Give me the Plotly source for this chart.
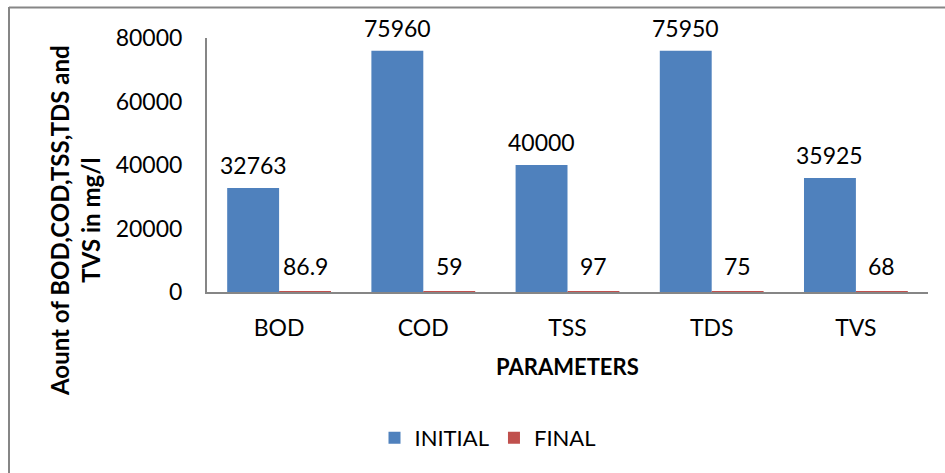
import plotly.graph_objects as go

# Wastewater parameters before and after treatment (mg/l)
parameters = ["BOD", "COD", "TSS", "TDS", "TVS"]
initial_vals = [32763, 75960, 40000, 75950, 35925]
final_vals = [86.9, 59, 97, 75, 68]
initial_labels = ["32763", "75960", "40000", "75950", "35925"]
final_labels = ["86.9", "59", "97", "75", "68"]
y_tick_vals = [0, 20000, 40000, 60000, 80000]

BLUE = "#4F81BD"
RED = "#C0504D"
AXIS_GRAY = "#868686"
FONT = "Lato"

W, H = 945, 473
ML, MR, MT, MB = 207, 17, 38, 181
plot_w = W - ML - MR
plot_h = H - MT - MB
cat_w = plot_w / len(parameters)
bargap = 0.28
bar_w = cat_w * (1 - bargap) / 2


def px_x(px):
    return (px - ML) / plot_w


def px_y(py):
    return (H - MB - py) / plot_h


fig = go.Figure()
fig.add_trace(go.Bar(name="INITIAL", x=parameters, y=initial_vals,
                     marker=dict(color=BLUE, line=dict(width=0))))
fig.add_trace(go.Bar(name="FINAL", x=parameters, y=final_vals,
                     marker=dict(color=RED, line=dict(width=0))))

annotations = []
for cat, v, t in zip(parameters, initial_vals, initial_labels):
    annotations.append(dict(x=cat, y=v, xref="x", yref="y", text=t,
                            showarrow=False, xshift=-bar_w / 2, yshift=23,
                            yanchor="middle",
                            font=dict(family=FONT, size=23, color="#000")))
for cat, v, t in zip(parameters, final_vals, final_labels):
    annotations.append(dict(x=cat, y=v, xref="x", yref="y", text=t,
                            showarrow=False, xshift=bar_w / 2, yshift=26,
                            yanchor="middle",
                            font=dict(family=FONT, size=23, color="#000")))

# Rotated two-line value-axis title
annotations.append(dict(x=px_x(75), y=px_y(221), xref="paper", yref="paper",
                        text="<b>Aount of BOD,COD,TSS,TDS and<br>TVS in mg/l</b>",
                        textangle=-90, showarrow=False,
                        xanchor="center", yanchor="middle",
                        font=dict(family=FONT, size=24, color="#000")))
# Category-axis title
annotations.append(dict(x=0.5, y=px_y(366), xref="paper", yref="paper",
                        text="<b>PARAMETERS</b>", showarrow=False,
                        xanchor="center", yanchor="middle",
                        font=dict(family=FONT, size=22, color="#000")))

# Chart-area border (top and left edges)
shapes = [
    dict(type="line", xref="paper", yref="paper",
         x0=px_x(9), x1=px_x(W + 5), y0=px_y(7.5), y1=px_y(7.5),
         line=dict(color=AXIS_GRAY, width=2)),
    dict(type="line", xref="paper", yref="paper",
         x0=px_x(9), x1=px_x(9), y0=px_y(7), y1=px_y(H + 5),
         line=dict(color=AXIS_GRAY, width=2)),
]

fig.update_layout(
    width=W, height=H,
    margin=dict(l=ML, r=MR, t=MT, b=MB, pad=0),
    paper_bgcolor="white", plot_bgcolor="white",
    barmode="group", bargap=bargap, bargroupgap=0,
    font=dict(family=FONT, size=23, color="#000"),
    showlegend=True,
    legend=dict(orientation="h", x=px_x(488), y=px_y(438),
                xanchor="center", yanchor="middle",
                font=dict(family=FONT, size=22, color="#000"),
                itemwidth=30, traceorder="normal"),
    annotations=annotations,
    shapes=shapes,
    xaxis=dict(showline=True, linecolor=AXIS_GRAY, linewidth=2,
               ticks="", showgrid=False, ticklabelstandoff=14,
               tickfont=dict(family=FONT, size=23, color="#000")),
    yaxis=dict(range=[0, 80000], tickvals=y_tick_vals,
               showline=True, linecolor=AXIS_GRAY, linewidth=2,
               ticks="", showgrid=False, zeroline=False,
               ticklabelstandoff=18, tickformat="d",
               tickfont=dict(family=FONT, size=23, color="#000")),
)

fig.write_html("out.html")
